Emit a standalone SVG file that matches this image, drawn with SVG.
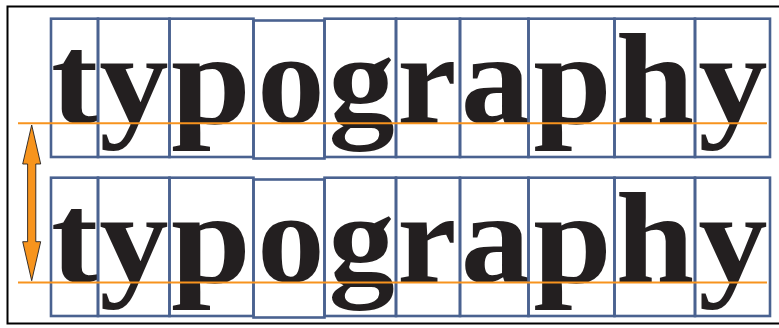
<svg xmlns="http://www.w3.org/2000/svg" width="779" height="328" viewBox="0 0 779 328">
<style>
.frame{fill:none;stroke:#000;stroke-width:2}
.box{fill:none;stroke:#4a6290;stroke-width:2.6}
.ch{font-family:"Liberation Serif","Times New Roman",serif;font-weight:bold;font-size:126px;fill:#231f20;text-anchor:middle}
.base{stroke:#f7931e;stroke-width:2}
.arrow{fill:#f7941d;stroke:#231f20;stroke-width:0.9;stroke-linejoin:miter}
</style>
<rect width="779" height="328" fill="#fff"/>
<rect class="frame" x="7.5" y="6.5" width="776" height="317"/>
<g id="row-top">
  <g id="top-t"><rect class="box" x="51" y="18.7" width="47" height="138.3"/><text class="ch" transform="translate(74.5,122.5) scale(1.12,1.02)">t</text></g>
  <g id="top-y"><rect class="box" x="98" y="18.7" width="71.5" height="138.3"/><text class="ch" transform="translate(134,122.5) scale(1.1,1.02)">y</text></g>
  <g id="top-p"><rect class="box" x="169.5" y="18.7" width="84" height="138.3"/><text class="ch" transform="translate(211,122.5) scale(1.14,1.02)">p</text></g>
  <g id="top-o"><rect class="box" x="253.5" y="20.5" width="71" height="138"/><text class="ch" transform="translate(291,122.5) scale(1.07,1.02)">o</text></g>
  <g id="top-g"><rect class="box" x="324.5" y="18.7" width="71.5" height="138.3"/><text class="ch" transform="translate(361.5,122.5) scale(1.05,1.02)">g</text></g>
  <g id="top-r"><rect class="box" x="396" y="18.7" width="64" height="138.3"/><text class="ch" transform="translate(427,122.5) scale(1.06,1.02)">r</text></g>
  <g id="top-a"><rect class="box" x="460" y="18.7" width="68.5" height="138.3"/><text class="ch" transform="translate(495.5,122.5) scale(1.1,1.02)">a</text></g>
  <g id="top-p2"><rect class="box" x="528.5" y="18.7" width="86" height="138.3"/><text class="ch" transform="translate(572.5,122.5) scale(1.12,1.02)">p</text></g>
  <g id="top-h"><rect class="box" x="614.5" y="18.7" width="80.5" height="138.3"/><text class="ch" transform="translate(655,122.5) scale(1.12,1.02)">h</text></g>
  <g id="top-y2"><rect class="box" x="695" y="18.7" width="75" height="138.3"/><text class="ch" transform="translate(733,122.5) scale(1.1,1.02)">y</text></g>
</g>
<g id="row-bottom" transform="translate(0,159)">
  <g id="bot-t"><rect class="box" x="51" y="18.7" width="47" height="138.3"/><text class="ch" transform="translate(74.5,122.5) scale(1.12,1.02)">t</text></g>
  <g id="bot-y"><rect class="box" x="98" y="18.7" width="71.5" height="138.3"/><text class="ch" transform="translate(134,122.5) scale(1.1,1.02)">y</text></g>
  <g id="bot-p"><rect class="box" x="169.5" y="18.7" width="84" height="138.3"/><text class="ch" transform="translate(211,122.5) scale(1.14,1.02)">p</text></g>
  <g id="bot-o"><rect class="box" x="253.5" y="20.5" width="71" height="138"/><text class="ch" transform="translate(291,122.5) scale(1.07,1.02)">o</text></g>
  <g id="bot-g"><rect class="box" x="324.5" y="18.7" width="71.5" height="138.3"/><text class="ch" transform="translate(361.5,122.5) scale(1.05,1.02)">g</text></g>
  <g id="bot-r"><rect class="box" x="396" y="18.7" width="64" height="138.3"/><text class="ch" transform="translate(427,122.5) scale(1.06,1.02)">r</text></g>
  <g id="bot-a"><rect class="box" x="460" y="18.7" width="68.5" height="138.3"/><text class="ch" transform="translate(495.5,122.5) scale(1.1,1.02)">a</text></g>
  <g id="bot-p2"><rect class="box" x="528.5" y="18.7" width="86" height="138.3"/><text class="ch" transform="translate(572.5,122.5) scale(1.12,1.02)">p</text></g>
  <g id="bot-h"><rect class="box" x="614.5" y="18.7" width="80.5" height="138.3"/><text class="ch" transform="translate(655,122.5) scale(1.12,1.02)">h</text></g>
  <g id="bot-y2"><rect class="box" x="695" y="18.7" width="75" height="138.3"/><text class="ch" transform="translate(733,122.5) scale(1.1,1.02)">y</text></g>
</g>
<g id="connectors">
  <line class="base" x1="18" y1="123.3" x2="767" y2="123.3"/>
  <line class="base" x1="18" y1="282.5" x2="767" y2="282.5"/>
  <path class="arrow" d="M31.7,125 L40.7,164 L35.8,164 L35.8,241.7 L40.7,241.7 L31.7,280.7 L22.7,241.7 L27.6,241.7 L27.6,164 L22.7,164 Z"/>
</g>
</svg>
